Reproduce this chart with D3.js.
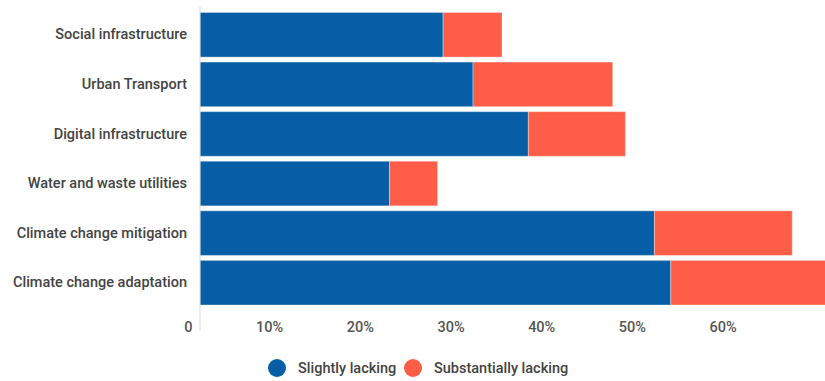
<!DOCTYPE html>
<html lang="en">
<head>
    <meta charset="UTF-8">
    <title>Infrastructure gaps</title>
    <style>
        *{
            box-sizing: border-box;
        }
        body{
            margin: 0;
            background: #fff;
        }
        #main{
            width: 825px;
            height: 381px;
            overflow: hidden;
        }
        text{
            font-family: Roboto, "Noto Sans", sans-serif;
        }
    </style>
</head>
<body>
<div id="main"></div>
<script src="https://d3js.org/d3.v7.min.js"></script>
<script>
    /* data, percent of respondents */
    const categories = [
        'Social infrastructure',
        'Urban Transport',
        'Digital infrastructure',
        'Water and waste utilities',
        'Climate change mitigation',
        'Climate change adaptation'
    ]
    const slightly =      [26.8, 30.1, 36.2, 20.9, 50.1, 51.9]
    const substantially = [ 6.5, 15.4, 10.7,  5.3, 15.2, 20.0]
    const seriesNames = ['Slightly lacking', 'Substantially lacking']
    const tickValues = [0, 10, 20, 30, 40, 50, 60]

    const colors = ['#065fa6', '#fe5e47']

    const width = 825
    const height = 381

    const svg = d3.select('#main').append('svg')
        .attr('width', width)
        .attr('height', height)
        .attr('viewBox', `0 0 ${width} ${height}`)

    /* scales */
    const xScale = d3.scaleLinear()
        .domain([0, 70])
        .range([200, 200 + 9.07 * 70])

    const yScale = d3.scaleBand()
        .domain(categories)
        .range([10, 307.5])
        .paddingInner(0.1)
        .paddingOuter(0.05)

    /* stacked layout */
    const rows = categories.map((c, i) => ({cat: c, s0: slightly[i], s1: substantially[i]}))
    const stack = d3.stack().keys(['s0', 's1'])
    const layers = stack(rows)

    svg.append('g')
        .selectAll('g')
        .data(layers)
        .join('g')
        .attr('fill', (d, i) => colors[i])
        .selectAll('rect')
        .data(d => d)
        .join('rect')
        .attr('x', d => xScale(d[0]))
        .attr('y', d => yScale(d.data.cat))
        .attr('width', d => xScale(d[1]) - xScale(d[0]))
        .attr('height', yScale.bandwidth())
        .attr('stroke', '#fff')
        .attr('stroke-opacity', 0.35)
        .attr('stroke-width', 1)

    /* vertical axis line */
    svg.append('line')
        .attr('x1', xScale(0)).attr('x2', xScale(0))
        .attr('y1', 7).attr('y2', 331)
        .attr('stroke', '#d9d9d9')
        .attr('stroke-width', 1)

    /* category labels */
    const yAxis = d3.axisLeft(yScale).tickSize(0).tickPadding(13)
    const yg = svg.append('g')
        .attr('transform', `translate(${xScale(0)},0)`)
        .call(yAxis)
    yg.select('.domain').remove()
    yg.selectAll('text')
        .style('font-size', '14.5px')
        .style('font-weight', 500)
        .attr('fill', '#444')

    /* x tick labels, right of each label sits the tick */
    const xAxis = d3.axisBottom(xScale)
        .tickValues(tickValues)
        .tickSize(0)
        .tickFormat(d => d === 0 ? '0' : d + '%')
    const xg = svg.append('g')
        .attr('transform', 'translate(0,315)')
        .call(xAxis)
    xg.select('.domain').remove()
    xg.selectAll('text')
        .attr('text-anchor', 'end')
        .attr('dx', -8)
        .attr('y', 7)
        .style('font-size', '14.5px')
        .style('font-weight', 500)
        .attr('fill', '#555')

    /* legend */
    const legendX = [277, 413]
    const legend = svg.append('g')
        .selectAll('g')
        .data(seriesNames)
        .join('g')
        .attr('transform', (d, i) => `translate(${legendX[i]},368)`)
    legend.append('circle')
        .attr('r', 9)
        .attr('fill', (d, i) => colors[i])
    legend.append('text')
        .attr('x', 21)
        .attr('dy', '0.35em')
        .style('font-size', '14.5px')
        .style('font-weight', 500)
        .attr('fill', '#444')
        .text(d => d)
</script>
</body>
</html>
